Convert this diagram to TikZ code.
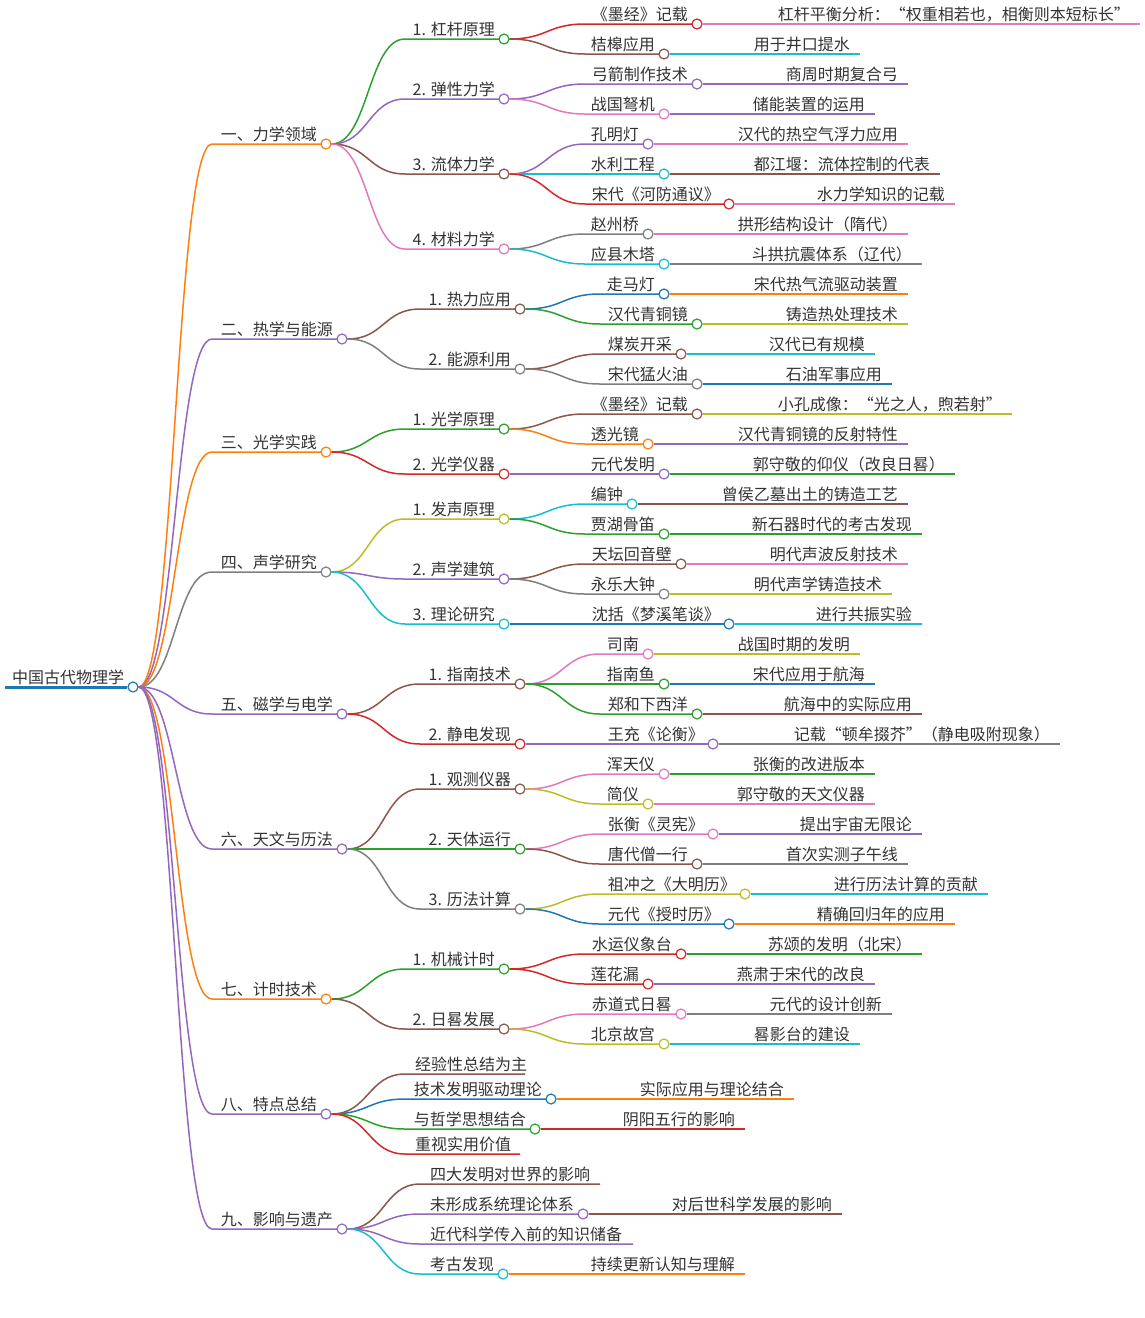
\documentclass[tikz,border=0pt]{standalone}
\usepackage{fontspec}
\setmainfont{Noto Sans CJK SC}
\usetikzlibrary{calc}
\definecolor{cB}{HTML}{1F77B4}\definecolor{cO}{HTML}{FF7F0E}\definecolor{cG}{HTML}{2CA02C}
\definecolor{cR}{HTML}{D62728}\definecolor{cP}{HTML}{9467BD}\definecolor{cBr}{HTML}{8C564B}
\definecolor{cPk}{HTML}{E377C2}\definecolor{cGy}{HTML}{7F7F7F}\definecolor{cOl}{HTML}{BCBD22}
\definecolor{cC}{HTML}{17BECF}\definecolor{tx}{HTML}{333333}
\tikzset{dot/.style={circle,draw=#1,fill=white,line width=1.2pt,minimum size=10pt,inner sep=0pt},
 lw/.style={line width=1.5pt},
 txt/.style={text=tx,inner sep=0pt,font=\fontsize{16}{19}\selectfont,anchor=base east}}
% name, parent, startx, y, circlex, color, text
\newcommand\MN[7]{%
 \coordinate (#1s) at (#3,#4);
 \draw[#6,lw] (#2.east) .. controls ($(#2.east)!0.5!(#2.east -| #1s)$) and ($(#1s)!0.5!(#1s -| #2.east)$) .. (#1s) -- (#5-5,#4);
 \node[dot=#6] (#1) at (#5,#4) {};
 \node[txt] (#1t) at (#5-9,#4-4) {#7};}
% name, parent, startx, y, endx, color, text (no circle)
\newcommand\MZ[7]{%
 \coordinate (#1s) at (#3,#4);\coordinate (#1) at (#5,#4);
 \draw[#6,lw] (#2.east) .. controls ($(#2.east)!0.5!(#2.east -| #1s)$) and ($(#1s)!0.5!(#1s -| #2.east)$) .. (#1s) -- (#1);
 \node[txt,anchor=base west] (#1t) at (#3+10,#4-4) {#7};}
% leaf: name, parent, y, endx, color, text
\newcommand\LF[6]{%
 \coordinate (#1) at (#4,#3);
 \draw[#5,lw] (#2.east) -- (#1);
 \node[txt] (#1t) at (#4-10,#3-4) {#6};}
\begin{document}
\begin{tikzpicture}[x=1pt,y=-1pt]
\useasboundingbox[fill=white] (0,0) rectangle (1144,1318);
\draw[cB,line width=3pt] (5,687) -- (127,687);
\node[dot=cB] (r) at (133,687) {};
\node[txt,anchor=base west] (rt) at (12,683) {中国古代物理学};
% level 1
\MN{a}{r}{212}{144}{326}{cO}{一、力学领域}
\MN{b}{r}{212}{339}{342}{cP}{二、热学与能源}
\MN{c}{r}{212}{452}{326}{cO}{三、光学实践}
\MN{d}{r}{212}{572}{326}{cGy}{四、声学研究}
\MN{e}{r}{212}{714}{342}{cP}{五、磁学与电学}
\MN{f}{r}{212}{849}{342}{cP}{六、天文与历法}
\MN{g}{r}{212}{999}{326}{cO}{七、计时技术}
\MN{h}{r}{212}{1114}{326}{cP}{八、特点总结}
\MN{i}{r}{212}{1229}{342}{cP}{九、影响与遗产}
% 一
\MN{a1}{a}{405}{39}{504}{cG}{1. 杠杆原理}
\MN{a2}{a}{405}{99}{504}{cP}{2. 弹性力学}
\MN{a3}{a}{405}{174}{504}{cBr}{3. 流体力学}
\MN{a4}{a}{405}{249}{504}{cPk}{4. 材料力学}
\MN{a11}{a1}{585}{24}{697}{cR}{《墨经》记载}
\MN{a12}{a1}{585}{54}{664}{cBr}{桔槔应用}
\LF{a111}{a11}{24}{1140}{cPk}{杠杆平衡分析：“权重相若也，相衡则本短标长”}
\LF{a121}{a12}{54}{860}{cC}{用于井口提水}
\MN{a21}{a2}{585}{84}{697}{cP}{弓箭制作技术}
\MN{a22}{a2}{585}{114}{664}{cPk}{战国弩机}
\LF{a211}{a21}{84}{908}{cP}{商周时期复合弓}
\LF{a221}{a22}{114}{875}{cP}{储能装置的运用}
\MN{a31}{a3}{585}{144}{648}{cP}{孔明灯}
\MN{a32}{a3}{585}{174}{664}{cC}{水利工程}
\MN{a33}{a3}{585}{204}{729}{cR}{宋代《河防通议》}
\LF{a311}{a31}{144}{908}{cPk}{汉代的热空气浮力应用}
\LF{a321}{a32}{174}{940}{cBr}{都江堰：流体控制的代表}
\LF{a331}{a33}{204}{955}{cPk}{水力学知识的记载}
\MN{a41}{a4}{585}{234}{648}{cGy}{赵州桥}
\MN{a42}{a4}{585}{264}{664}{cC}{应县木塔}
\LF{a411}{a41}{234}{908}{cPk}{拱形结构设计（隋代）}
\LF{a421}{a42}{264}{922}{cGy}{斗拱抗震体系（辽代）}
% 二
\MN{b1}{b}{420}{309}{520}{cBr}{1. 热力应用}
\MN{b2}{b}{420}{369}{520}{cGy}{2. 能源利用}
\MN{b11}{b1}{600}{294}{664}{cB}{走马灯}
\MN{b12}{b1}{600}{324}{697}{cG}{汉代青铜镜}
\MN{b21}{b2}{600}{354}{681}{cBr}{煤炭开采}
\MN{b22}{b2}{600}{384}{697}{cGy}{宋代猛火油}
\LF{b111}{b11}{294}{908}{cO}{宋代热气流驱动装置}
\LF{b121}{b12}{324}{908}{cOl}{铸造热处理技术}
\LF{b211}{b21}{354}{875}{cC}{汉代已有规模}
\LF{b221}{b22}{384}{892}{cB}{石油军事应用}
% 三
\MN{c1}{c}{405}{429}{504}{cG}{1. 光学原理}
\MN{c2}{c}{405}{474}{504}{cR}{2. 光学仪器}
\MN{c11}{c1}{585}{414}{697}{cBr}{《墨经》记载}
\MN{c12}{c1}{585}{444}{648}{cO}{透光镜}
\MN{c21}{c2}{585}{474}{664}{cP}{元代发明}
\LF{c111}{c11}{414}{1012}{cOl}{小孔成像：“光之人，煦若射”}
\LF{c121}{c12}{444}{908}{cP}{汉代青铜镜的反射特性}
\LF{c211}{c21}{474}{955}{cG}{郭守敬的仰仪（改良日晷）}
% 四
\MN{d1}{d}{405}{519}{504}{cOl}{1. 发声原理}
\MN{d2}{d}{405}{579}{504}{cP}{2. 声学建筑}
\MN{d3}{d}{405}{624}{504}{cC}{3. 理论研究}
\MN{d11}{d1}{585}{504}{632}{cC}{编钟}
\MN{d12}{d1}{585}{534}{664}{cG}{贾湖骨笛}
\MN{d21}{d2}{585}{564}{681}{cBr}{天坛回音壁}
\MN{d22}{d2}{585}{594}{664}{cGy}{永乐大钟}
\MN{d31}{d3}{585}{624}{729}{cB}{沈括《梦溪笔谈》}
\LF{d111}{d11}{504}{908}{cBr}{曾侯乙墓出土的铸造工艺}
\LF{d121}{d12}{534}{922}{cG}{新石器时代的考古发现}
\LF{d211}{d21}{564}{908}{cPk}{明代声波反射技术}
\LF{d221}{d22}{594}{892}{cOl}{明代声学铸造技术}
\LF{d311}{d31}{624}{922}{cC}{进行共振实验}
% 五
\MN{e1}{e}{420}{684}{520}{cBr}{1. 指南技术}
\MN{e2}{e}{420}{744}{520}{cR}{2. 静电发现}
\MN{e11}{e1}{600}{654}{648}{cPk}{司南}
\MN{e12}{e1}{600}{684}{664}{cG}{指南鱼}
\MN{e13}{e1}{600}{714}{697}{cG}{郑和下西洋}
\MN{e21}{e2}{600}{744}{713}{cP}{王充《论衡》}
\LF{e111}{e11}{654}{860}{cOl}{战国时期的发明}
\LF{e121}{e12}{684}{875}{cB}{宋代应用于航海}
\LF{e131}{e13}{714}{922}{cBr}{航海中的实际应用}
\LF{e211}{e21}{744}{1060}{cGy}{记载“顿牟掇芥”（静电吸附现象）}
% 六
\MN{f1}{f}{420}{789}{520}{cBr}{1. 观测仪器}
\MN{f2}{f}{420}{849}{520}{cG}{2. 天体运行}
\MN{f3}{f}{420}{909}{520}{cGy}{3. 历法计算}
\MN{f11}{f1}{600}{774}{664}{cPk}{浑天仪}
\MN{f12}{f1}{600}{804}{648}{cOl}{简仪}
\MN{f21}{f2}{600}{834}{713}{cPk}{张衡《灵宪》}
\MN{f22}{f2}{600}{864}{697}{cBr}{唐代僧一行}
\MN{f31}{f3}{600}{894}{745}{cOl}{祖冲之《大明历》}
\MN{f32}{f3}{600}{924}{729}{cB}{元代《授时历》}
\LF{f111}{f11}{774}{875}{cG}{张衡的改进版本}
\LF{f121}{f12}{804}{875}{cPk}{郭守敬的天文仪器}
\LF{f211}{f21}{834}{922}{cP}{提出宇宙无限论}
\LF{f221}{f22}{864}{908}{cGy}{首次实测子午线}
\LF{f311}{f31}{894}{988}{cC}{进行历法计算的贡献}
\LF{f321}{f32}{924}{955}{cO}{精确回归年的应用}
% 七
\MN{g1}{g}{405}{969}{504}{cG}{1. 机械计时}
\MN{g2}{g}{405}{1029}{504}{cBr}{2. 日晷发展}
\MN{g11}{g1}{585}{954}{681}{cR}{水运仪象台}
\MN{g12}{g1}{585}{984}{648}{cR}{莲花漏}
\MN{g21}{g2}{585}{1014}{681}{cPk}{赤道式日晷}
\MN{g22}{g2}{585}{1044}{664}{cOl}{北京故宫}
\LF{g111}{g11}{954}{922}{cG}{苏颂的发明（北宋）}
\LF{g121}{g12}{984}{875}{cP}{燕肃于宋代的改良}
\LF{g211}{g21}{1014}{892}{cGy}{元代的设计创新}
\LF{g221}{g22}{1044}{860}{cC}{晷影台的建设}
% 八
\MZ{h1}{h}{405}{1074}{525}{cBr}{经验性总结为主}
\MN{h2}{h}{405}{1099}{551}{cB}{技术发明驱动理论}
\MN{h3}{h}{405}{1129}{535}{cG}{与哲学思想结合}
\MZ{h4}{h}{405}{1154}{520}{cR}{重视实用价值}
\LF{h21}{h2}{1099}{794}{cO}{实际应用与理论结合}
\LF{h31}{h3}{1129}{745}{cR}{阴阳五行的影响}
% 九
\MZ{i1}{i}{420}{1184}{600}{cBr}{四大发明对世界的影响}
\MN{i2}{i}{420}{1214}{583}{cP}{未形成系统理论体系}
\MZ{i3}{i}{420}{1244}{633}{cP}{近代科学传入前的知识储备}
\MN{i4}{i}{420}{1274}{503}{cC}{考古发现}
\LF{i21}{i2}{1214}{842}{cBr}{对后世科学发展的影响}
\LF{i41}{i4}{1274}{745}{cO}{持续更新认知与理解}
\end{tikzpicture}
\end{document}
